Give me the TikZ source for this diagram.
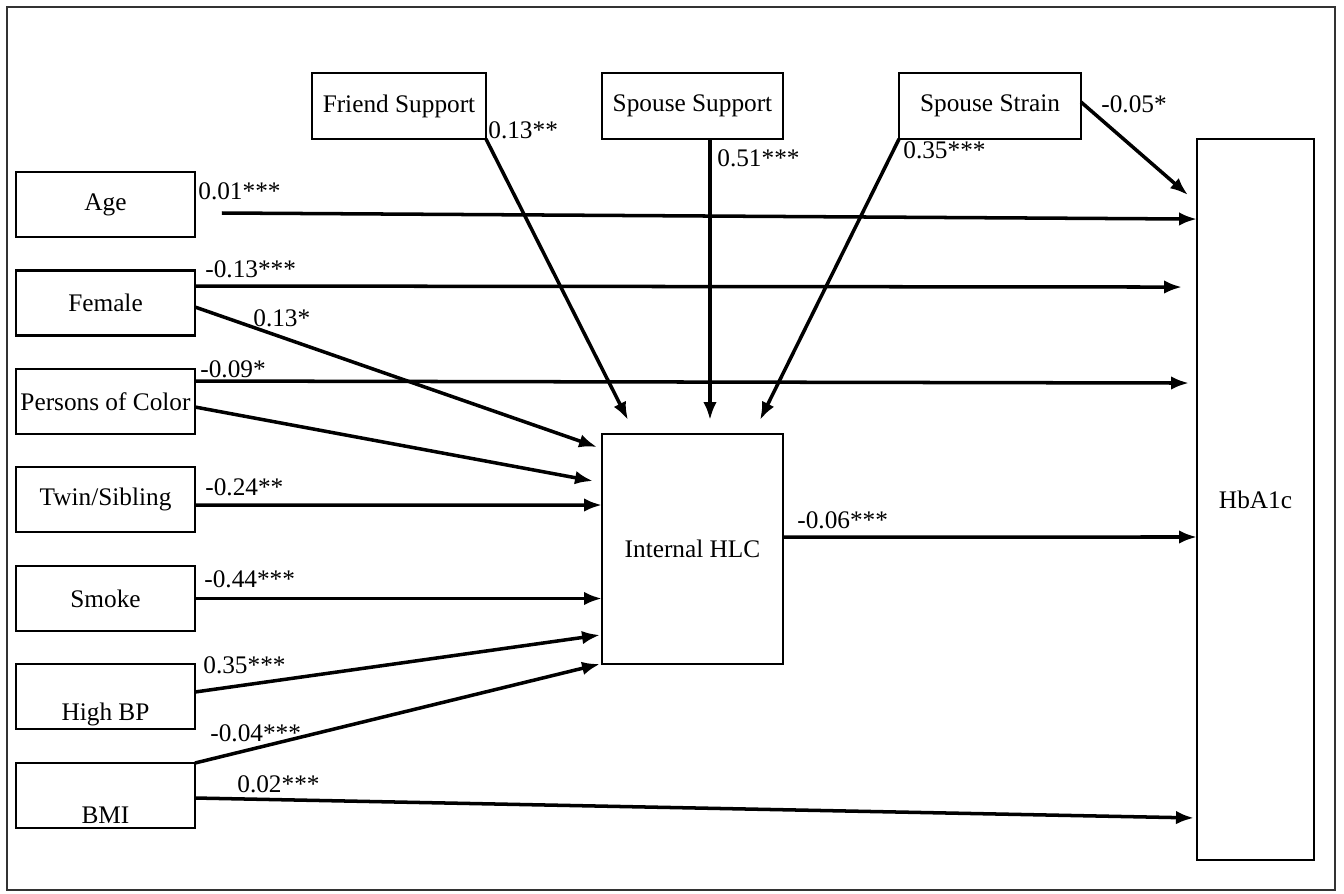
\documentclass[tikz,border=0pt]{standalone}
\usepackage{fontspec}
\setmainfont{Liberation Serif}
\usetikzlibrary{arrows.meta}

\begin{document}
\begin{tikzpicture}[x=0.02cm, y=-0.02cm,
        font=\fontsize{14.4}{17}\selectfont,
        >={Latex[length=0.36cm,width=0.27cm]},
        varbox/.style={draw, line width=1.4pt, minimum width=3.58cm,
            minimum height=1.3cm, inner sep=0pt, outer sep=0pt},
        lowbox/.style={varbox, text height=#1, text depth=0pt},
        link/.style={->, line width=2pt},
        coef/.style={anchor=west, inner sep=0pt}
        ]
        \useasboundingbox (0,0) rectangle (1344,893);
        \draw[black!80, line width=1.2pt] (7,7) rectangle (1335,890);

        % Support and strain on top
        \node[varbox, minimum width=3.48cm, minimum height=1.32cm] (friend) at (399,106) {Friend Support};
        \node[varbox, minimum width=3.62cm, minimum height=1.32cm] (spsup) at (692.5,106) {Spouse Support};
        \node[varbox, minimum width=3.64cm, minimum height=1.32cm] (spstr) at (990,106) {Spouse Strain};

        % Controls on the left
        \node[varbox] (age) at (105.5,204.5) {Age};
        \node[varbox] (fem) at (105.5,303) {Female};
        \node[varbox] (poc) at (105.5,401.5) {Persons of Color};
        \node[varbox] (twin) at (105.5,499.5) {Twin/Sibling};
        \node[varbox] (smoke) at (105.5,598.5) {Smoke};
        \node[lowbox=0.96cm] (bp) at (105.5,696.5) {High BP};
        \node[lowbox=1.1cm] (bmi) at (105.5,795.5) {BMI};

        % Mediator and outcome
        \node[varbox, minimum width=3.62cm, minimum height=4.6cm] (hlc) at (692.5,549) {Internal HLC};
        \node[varbox, minimum width=2.34cm, minimum height=14.42cm] (hb) at (1255.5,499.5) {HbA1c};

        % Paths to HbA1c
        \draw[link] ([xshift=0.54cm,yshift=-0.17cm]age.east) -- ([yshift=5.61cm]hb.west)
        ;
        \draw[link] ([yshift=0.34cm]fem.east) -- ([xshift=-0.3cm,yshift=4.25cm]hb.west)
        ;
        \draw[link] ([yshift=0.41cm]poc.east) -- ([xshift=-0.16cm,yshift=2.33cm]hb.west)
        ;
        \draw[link] ([yshift=-0.05cm]bmi.east) -- ([xshift=-0.06cm,yshift=-6.37cm]hb.west)
        ;
        \draw[link] ([yshift=0.08cm]spstr.east) -- ([xshift=-0.18cm,yshift=-1.12cm]hb.north west)
        ;
        \draw[link] ([yshift=0.24cm]hlc.east) -- ([yshift=-0.75cm]hb.west)
        ;

        % Paths to Internal HLC
        \draw[link] ([yshift=-0.08cm]fem.east) -- ([xshift=-0.1cm,yshift=-0.26cm]hlc.north west)
        ;
        \draw[link] ([yshift=-0.11cm]poc.east) -- ([xshift=-0.18cm,yshift=-0.94cm]hlc.north west)
        ;
        \draw[link] ([yshift=-0.11cm]twin.east) -- ([yshift=0.88cm]hlc.west)
        ;
        \draw[link] (smoke.east) -- (smoke.east -| hlc.west)
        ;
        \draw[link] ([yshift=0.09cm]bp.east) -- ([xshift=-0.04cm,yshift=0.58cm]hlc.south west)
        ;
        \draw[link] (bmi.north east) -- ([xshift=-0.04cm]hlc.south west)
        ;
        \draw[link] (friend.south east) -- ([xshift=0.52cm,yshift=0.28cm]hlc.north west)
        ;
        \draw[link] ([xshift=0.35cm]spsup.south) -- ([xshift=0.35cm,yshift=0.28cm]hlc.north)
        ;
        \draw[link] (spstr.south west) -- ([xshift=1.35cm,yshift=0.28cm]hlc.north)
        ;

        %% Coefficients
        \node[coef] (c-age) at (198,191) {0.01***};
        \node[coef] (c-femhb) at (205,269) {-0.13***};
        \node[coef] (c-femhlc) at (253,318) {0.13*};
        \node[coef] (c-pochb) at (200,369) {-0.09*};
        \node[coef] (c-twin) at (205,487) {-0.24**};
        \node[coef] (c-smoke) at (204,579) {-0.44***};
        \node[coef] (c-bp) at (203,665) {0.35***};
        \node[coef] (c-bmihlc) at (210,733) {-0.04***};
        \node[coef] (c-bmihb) at (237,784) {0.02***};
        \node[coef] (c-friend) at (488,130) {0.13**};
        \node[coef] (c-spsup) at (717,158) {0.51***};
        \node[coef] (c-spstr) at (903,150) {0.35***};
        \node[coef] (c-strhb) at (1101,104) {-0.05*};
        \node[coef] (c-hlc) at (797,520) {-0.06***};

    \end{tikzpicture}
\end{document}
